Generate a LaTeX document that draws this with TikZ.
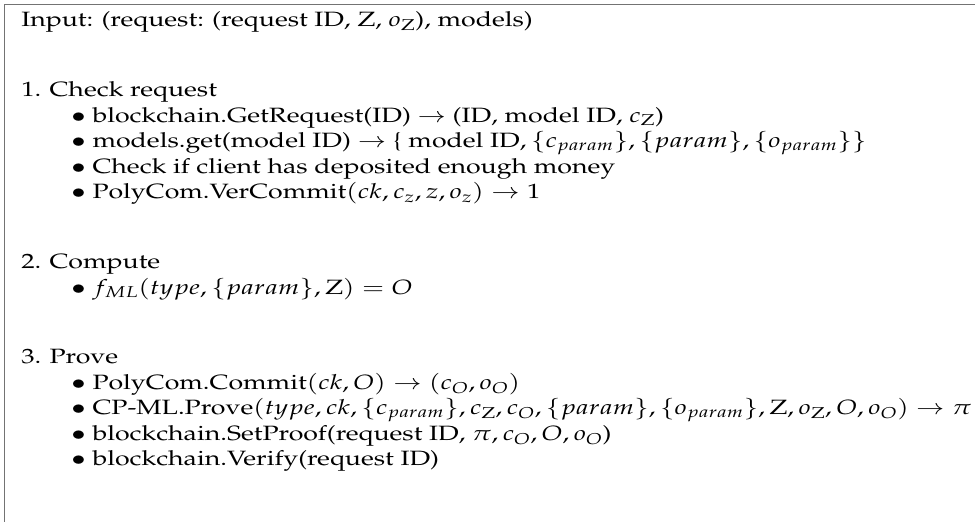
\documentclass[tikz,border=0pt]{standalone}
\usepackage[T1]{fontenc}
\usepackage{mathpazo}
\begin{document}
\begin{tikzpicture}[x=1pt,y=-1pt,
  txt/.style={anchor=base west,inner sep=0pt,xscale=1.29,
    font=\fontsize{20.7}{25.6}\selectfont},
  frameline/.style={draw=black!55,line width=1.4pt}]
\useasboundingbox (0,0) rectangle (975,522);
% open frame: top rule and left rule only
\draw[frameline] (975,4.5) -- (4.5,4.5) -- (4.5,522);

\node[txt] (input) at (21,27) {Input: (request: (request ID, Z, $o_\mathrm{Z}$), models)};

\node[txt] (s1) at (21,96.5) {1. Check request};
\node[txt] (s1a) at (71,122.1) {$\bullet$ blockchain.GetRequest(ID) $\to$ (ID, model ID, $c_\mathrm{Z}$)};
\node[txt] (s1b) at (71,147.7) {$\bullet$ models.get(model ID) $\to$ \{ model ID$, \{c_{param}\}, \{param\}, \{o_{param}\}\}$};
\node[txt] (s1c) at (71,173.3) {$\bullet$ Check if client has deposited enough money};
\node[txt] (s1d) at (71,198.9) {$\bullet$ PolyCom.VerCommit$(ck, c_z, z, o_z) \to 1$};

\node[txt] (s2) at (21,268.4) {2. Compute};
\node[txt] (s2a) at (71,294) {$\bullet$ $f_{ML}(type, \{param\}, \mathrm{Z}) = O$};

\node[txt] (s3) at (21,363.5) {3. Prove};
\node[txt] (s3a) at (71,389.1) {$\bullet$ PolyCom.Commit$(ck, O) \to (c_O, o_O)$};
\node[txt] (s3b) at (71,414.7) {$\bullet$ CP-ML.Prove$(type, ck, \{c_{param}\}, c_\mathrm{Z}, c_O, \{param\}, \{o_{param}\}, \mathrm{Z}, o_\mathrm{Z}, O, o_O) \to \pi$};
\node[txt] (s3c) at (71,440.3) {$\bullet$ blockchain.SetProof(request ID, $\pi, c_O, O, o_O$)};
\node[txt] (s3d) at (71,465.9) {$\bullet$ blockchain.Verify(request ID)};
\end{tikzpicture}
\end{document}
